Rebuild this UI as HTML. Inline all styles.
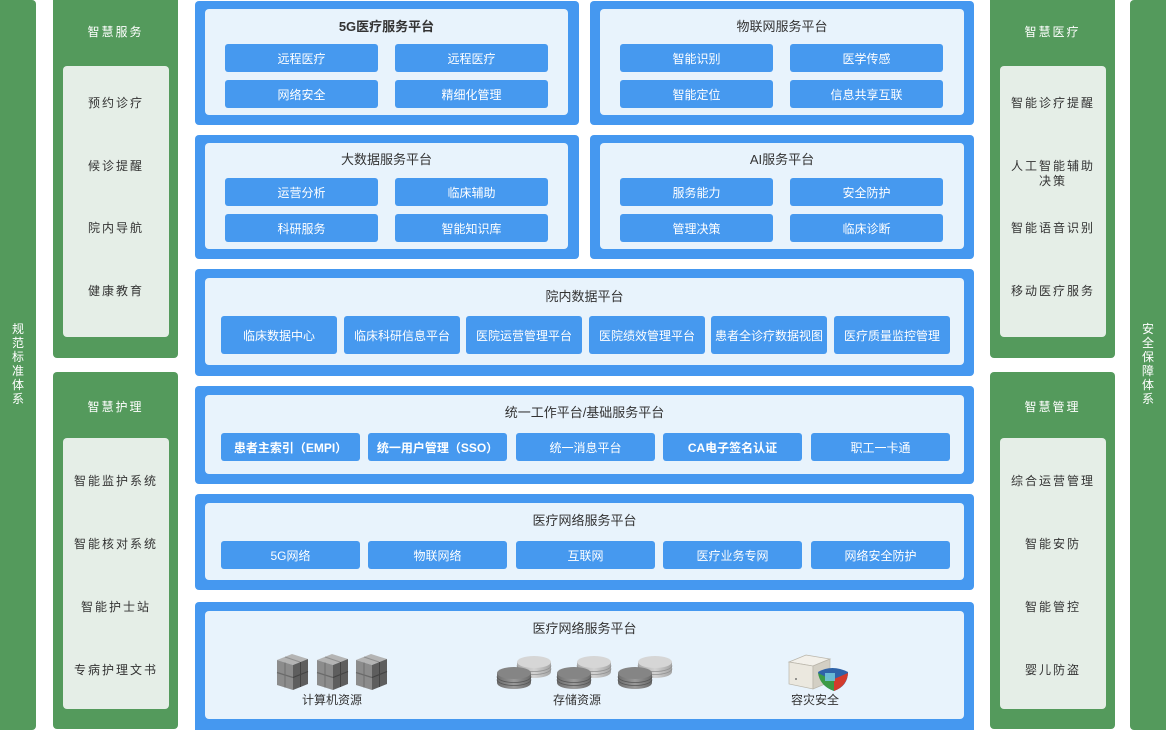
<!DOCTYPE html>
<html><head><meta charset="utf-8">
<style>
*{margin:0;padding:0;box-sizing:border-box}
body{width:1166px;height:730px;background:#fff;position:relative;overflow:hidden;font-family:"Liberation Sans","Noto Sans CJK SC",sans-serif}
.a{position:absolute}
.g{background:#549a5c;border-radius:4px}
.gi{background:#e5eee7;border-radius:4px}
.gt{color:#fff;font-size:12px;letter-spacing:2px;text-align:center;line-height:16px}
.it{color:#333;font-size:12px;letter-spacing:2px;text-align:center;line-height:15px}
.b{background:#4598f0;border-radius:4px}
.bi{background:#e8f3fc;border-radius:4px}
.bt{color:#333;font-size:13px;text-align:center;line-height:18px}
.btn{background:#4699ef;border-radius:3px;color:#fff;font-size:12px;text-align:center;display:flex;align-items:center;justify-content:center}
.vt{color:#fff;font-size:12px;line-height:14px;text-align:center;width:14px}
.lbl{color:#333;font-size:12px;text-align:center;line-height:16px}
</style></head><body>

<!-- left bar -->
<div class="a g" style="left:-4px;top:0;width:40px;height:730px"></div>
<div class="a vt" style="left:11px;top:322px">规<br>范<br>标<br>准<br>体<br>系</div>
<!-- right bar -->
<div class="a g" style="left:1130px;top:0;width:40px;height:730px"></div>
<div class="a vt" style="left:1141px;top:322px">安<br>全<br>保<br>障<br>体<br>系</div>

<!-- left col 1 -->
<div class="a g" style="left:53px;top:-4px;width:125px;height:362px"></div>
<div class="a gt" style="left:53px;top:24px;width:125px">智慧服务</div>
<div class="a gi" style="left:63px;top:66px;width:106px;height:271px"></div>
<div class="a it" style="left:63px;top:96px;width:106px">预约诊疗</div>
<div class="a it" style="left:63px;top:159px;width:106px">候诊提醒</div>
<div class="a it" style="left:63px;top:221px;width:106px">院内导航</div>
<div class="a it" style="left:63px;top:284px;width:106px">健康教育</div>

<!-- left col 2 -->
<div class="a g" style="left:53px;top:372px;width:125px;height:357px"></div>
<div class="a gt" style="left:53px;top:399px;width:125px">智慧护理</div>
<div class="a gi" style="left:63px;top:438px;width:106px;height:271px"></div>
<div class="a it" style="left:63px;top:474px;width:106px">智能监护系统</div>
<div class="a it" style="left:63px;top:537px;width:106px">智能核对系统</div>
<div class="a it" style="left:63px;top:600px;width:106px">智能护士站</div>
<div class="a it" style="left:63px;top:663px;width:106px">专病护理文书</div>

<!-- right col 1 -->
<div class="a g" style="left:990px;top:-4px;width:125px;height:362px"></div>
<div class="a gt" style="left:990px;top:24px;width:125px">智慧医疗</div>
<div class="a gi" style="left:1000px;top:66px;width:106px;height:271px"></div>
<div class="a it" style="left:1000px;top:96px;width:106px">智能诊疗提醒</div>
<div class="a it" style="left:1000px;top:159px;width:106px">人工智能辅助<br>决策</div>
<div class="a it" style="left:1000px;top:221px;width:106px">智能语音识别</div>
<div class="a it" style="left:1000px;top:284px;width:106px">移动医疗服务</div>

<!-- right col 2 -->
<div class="a g" style="left:990px;top:372px;width:125px;height:357px"></div>
<div class="a gt" style="left:990px;top:399px;width:125px">智慧管理</div>
<div class="a gi" style="left:1000px;top:438px;width:106px;height:271px"></div>
<div class="a it" style="left:1000px;top:474px;width:106px">综合运营管理</div>
<div class="a it" style="left:1000px;top:537px;width:106px">智能安防</div>
<div class="a it" style="left:1000px;top:600px;width:106px">智能管控</div>
<div class="a it" style="left:1000px;top:663px;width:106px">婴儿防盗</div>

<!-- P1 -->
<div class="a b" style="left:195px;top:1px;width:384px;height:124px"></div>
<div class="a bi" style="left:205px;top:9px;width:363px;height:106px"></div>
<div class="a bt" style="left:205px;top:18px;width:363px;font-weight:bold">5G医疗服务平台</div>
<div class="a btn" style="left:225px;top:44px;width:153px;height:28px">远程医疗</div>
<div class="a btn" style="left:395px;top:44px;width:153px;height:28px">远程医疗</div>
<div class="a btn" style="left:225px;top:80px;width:153px;height:28px">网络安全</div>
<div class="a btn" style="left:395px;top:80px;width:153px;height:28px">精细化管理</div>

<!-- P2 -->
<div class="a b" style="left:590px;top:1px;width:384px;height:124px"></div>
<div class="a bi" style="left:600px;top:9px;width:364px;height:106px"></div>
<div class="a bt" style="left:600px;top:18px;width:364px">物联网服务平台</div>
<div class="a btn" style="left:620px;top:44px;width:153px;height:28px">智能识别</div>
<div class="a btn" style="left:790px;top:44px;width:153px;height:28px">医学传感</div>
<div class="a btn" style="left:620px;top:80px;width:153px;height:28px">智能定位</div>
<div class="a btn" style="left:790px;top:80px;width:153px;height:28px">信息共享互联</div>

<!-- P3 -->
<div class="a b" style="left:195px;top:135px;width:384px;height:124px"></div>
<div class="a bi" style="left:205px;top:143px;width:363px;height:106px"></div>
<div class="a bt" style="left:205px;top:151px;width:363px">大数据服务平台</div>
<div class="a btn" style="left:225px;top:178px;width:153px;height:28px">运营分析</div>
<div class="a btn" style="left:395px;top:178px;width:153px;height:28px">临床辅助</div>
<div class="a btn" style="left:225px;top:214px;width:153px;height:28px">科研服务</div>
<div class="a btn" style="left:395px;top:214px;width:153px;height:28px">智能知识库</div>

<!-- P4 -->
<div class="a b" style="left:590px;top:135px;width:384px;height:124px"></div>
<div class="a bi" style="left:600px;top:143px;width:364px;height:106px"></div>
<div class="a bt" style="left:600px;top:151px;width:364px">AI服务平台</div>
<div class="a btn" style="left:620px;top:178px;width:153px;height:28px">服务能力</div>
<div class="a btn" style="left:790px;top:178px;width:153px;height:28px">安全防护</div>
<div class="a btn" style="left:620px;top:214px;width:153px;height:28px">管理决策</div>
<div class="a btn" style="left:790px;top:214px;width:153px;height:28px">临床诊断</div>

<!-- P5 -->
<div class="a b" style="left:195px;top:269px;width:779px;height:107px"></div>
<div class="a bi" style="left:205px;top:278px;width:759px;height:87px"></div>
<div class="a bt" style="left:205px;top:288px;width:759px">院内数据平台</div>
<div class="a btn" style="left:221px;top:316px;width:116px;height:38px">临床数据中心</div>
<div class="a btn" style="left:344px;top:316px;width:116px;height:38px">临床科研信息平台</div>
<div class="a btn" style="left:466px;top:316px;width:116px;height:38px">医院运营管理平台</div>
<div class="a btn" style="left:589px;top:316px;width:116px;height:38px">医院绩效管理平台</div>
<div class="a btn" style="left:711px;top:316px;width:116px;height:38px">患者全诊疗数据视图</div>
<div class="a btn" style="left:834px;top:316px;width:116px;height:38px">医疗质量监控管理</div>

<!-- P6 -->
<div class="a b" style="left:195px;top:386px;width:779px;height:98px"></div>
<div class="a bi" style="left:205px;top:395px;width:759px;height:79px"></div>
<div class="a bt" style="left:205px;top:404px;width:759px">统一工作平台/基础服务平台</div>
<div class="a btn" style="left:221px;top:433px;width:139px;height:28px;font-weight:bold">患者主索引（EMPI）</div>
<div class="a btn" style="left:368px;top:433px;width:139px;height:28px;font-weight:bold">统一用户管理（SSO）</div>
<div class="a btn" style="left:516px;top:433px;width:139px;height:28px">统一消息平台</div>
<div class="a btn" style="left:663px;top:433px;width:139px;height:28px;font-weight:bold">CA电子签名认证</div>
<div class="a btn" style="left:811px;top:433px;width:139px;height:28px">职工一卡通</div>

<!-- P7 -->
<div class="a b" style="left:195px;top:494px;width:779px;height:96px"></div>
<div class="a bi" style="left:205px;top:503px;width:759px;height:77px"></div>
<div class="a bt" style="left:205px;top:512px;width:759px">医疗网络服务平台</div>
<div class="a btn" style="left:221px;top:541px;width:139px;height:28px">5G网络</div>
<div class="a btn" style="left:368px;top:541px;width:139px;height:28px">物联网络</div>
<div class="a btn" style="left:516px;top:541px;width:139px;height:28px">互联网</div>
<div class="a btn" style="left:663px;top:541px;width:139px;height:28px">医疗业务专网</div>
<div class="a btn" style="left:811px;top:541px;width:139px;height:28px">网络安全防护</div>

<!-- P8 -->
<div class="a b" style="left:195px;top:602px;width:779px;height:128px;border-radius:4px 4px 0 0"></div>
<div class="a bi" style="left:205px;top:611px;width:759px;height:108px"></div>
<div class="a bt" style="left:205px;top:620px;width:759px">医疗网络服务平台</div>

<svg class="a" style="left:0;top:0" width="1166" height="730" viewBox="0 0 1166 730">
<defs>
<linearGradient id="disk" x1="0" x2="1" y1="0" y2="0">
<stop offset="0" stop-color="#6d6d6d"/><stop offset="0.5" stop-color="#9a9a9a"/><stop offset="1" stop-color="#6a6a6a"/></linearGradient>
<linearGradient id="diskL" x1="0" x2="1" y1="0" y2="0">
<stop offset="0" stop-color="#a9a9a9"/><stop offset="0.5" stop-color="#d2d2d2"/><stop offset="1" stop-color="#a5a5a5"/></linearGradient>
<g id="srv">
<!-- 2x2 cube block -->
<polygon points="0,6 15,0 31,5 16,11" fill="#b4b4b4"/>
<polygon points="0,6 16,11 16,36 0,31" fill="#8c8c8c"/>
<polygon points="16,11 31,5 31,30 16,36" fill="#5e5e5e"/>
<line x1="8" y1="3" x2="23" y2="8" stroke="#8f8f8f" stroke-width="1"/>
<line x1="0" y1="18.5" x2="16" y2="23.5" stroke="#6a6a6a" stroke-width="1.2"/>
<line x1="16" y1="23.5" x2="31" y2="17.5" stroke="#444" stroke-width="1.2"/>
<line x1="8" y1="8.5" x2="8" y2="33.5" stroke="#6e6e6e" stroke-width="1"/>
<line x1="23.5" y1="8" x2="23.5" y2="33" stroke="#444" stroke-width="1"/>
</g>
<g id="dk">
<path d="M0,6 L0,16 A17,6 0 0 0 34,16 L34,6 Z" fill="url(#disk)"/>
<path d="M0,9.5 A17,6 0 0 0 34,9.5 M0,12.5 A17,6 0 0 0 34,12.5" fill="none" stroke="#555" stroke-width="0.8"/>
<ellipse cx="17" cy="6" rx="17" ry="6" fill="#858585"/>
</g>
<g id="dkl">
<path d="M0,6 L0,16 A17,6 0 0 0 34,16 L34,6 Z" fill="url(#diskL)"/>
<path d="M0,9.5 A17,6 0 0 0 34,9.5 M0,12.5 A17,6 0 0 0 34,12.5" fill="none" stroke="#909090" stroke-width="0.8"/>
<ellipse cx="17" cy="6" rx="17" ry="6" fill="#d6d6d6"/>
</g>
<g id="pair">
<use href="#dkl" x="20" y="0"/>
<use href="#dk" x="0" y="11"/>
</g>
</defs>
<use href="#srv" x="277" y="654"/>
<use href="#srv" x="317" y="654"/>
<use href="#srv" x="356" y="654"/>
<use href="#pair" x="497" y="656"/>
<use href="#pair" x="557" y="656"/>
<use href="#pair" x="618" y="656"/>
<!-- disaster recovery -->
<polygon points="789,662 806,655 830,659 813,666" fill="#f2f0ea" stroke="#b9b5aa" stroke-width="0.7"/>
<polygon points="789,662 813,666 813,689 789,684" fill="#ebe8df" stroke="#b9b5aa" stroke-width="0.7"/>
<polygon points="813,666 830,659 830,682 813,689" fill="#d3cfc4" stroke="#b9b5aa" stroke-width="0.7"/>
<circle cx="796" cy="679" r="0.9" fill="#555"/>
<path d="M818,672 Q832,664 848,672 Q848,686 834,691 Q820,686 818,672 Z" fill="#2f63a8"/>
<path d="M834,679 L848,673 Q847,686 834,691 Z" fill="#d33b2c"/>
<path d="M818,673 Q820,686 834,691 L834,681 Z" fill="#3b9a45"/>
<rect x="825" y="673" width="10" height="8" fill="#6fc3d8" opacity="0.9"/>
</svg>

<div class="a lbl" style="left:282px;top:692px;width:100px">计算机资源</div>
<div class="a lbl" style="left:527px;top:692px;width:100px">存储资源</div>
<div class="a lbl" style="left:765px;top:692px;width:100px">容灾安全</div>

</body></html>
